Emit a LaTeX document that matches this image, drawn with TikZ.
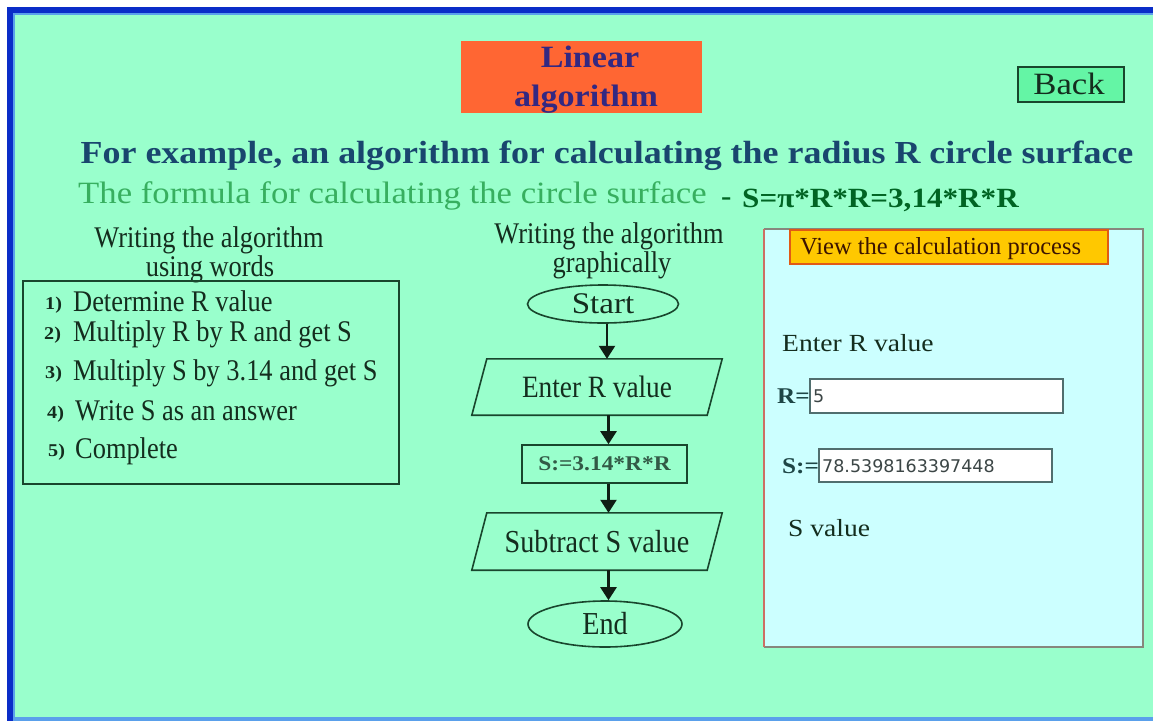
\documentclass[tikz,border=0pt]{standalone}
\usepackage{fontspec}
\setmainfont{Liberation Serif}
\newfontfamily\fcond{Liberation Serif}[FakeStretch=0.88]
\newfontfamily\fwide{Liberation Serif}[FakeStretch=1.12]
\newfontfamily\fmid{Liberation Serif}[FakeStretch=1.1]
\newfontfamily\fsans{DejaVu Sans}
\usetikzlibrary{shapes.geometric,arrows.meta}
\definecolor{bg}{RGB}{153,255,204}
\definecolor{frameblue}{RGB}{10,45,200}
\definecolor{framelight}{RGB}{90,160,235}
\definecolor{ink}{RGB}{20,45,30}
\definecolor{boxline}{RGB}{25,70,45}
\definecolor{titlec}{RGB}{51,40,130}
\definecolor{titlefill}{RGB}{255,102,51}
\definecolor{headc}{RGB}{25,70,110}
\definecolor{fgreen}{RGB}{55,175,95}
\definecolor{fdark}{RGB}{0,100,35}
\definecolor{backfill}{RGB}{100,245,165}
\definecolor{panelfill}{RGB}{204,255,255}
\definecolor{panelgray}{RGB}{135,135,125}
\definecolor{panelred}{RGB}{205,110,100}
\definecolor{btnfill}{RGB}{255,200,0}
\definecolor{btnline}{RGB}{225,90,20}
\definecolor{btntext}{RGB}{60,20,0}
\definecolor{labtext}{RGB}{30,70,70}
\definecolor{inbox}{RGB}{80,110,110}
\definecolor{digitc}{RGB}{60,70,70}
\definecolor{calcc}{RGB}{50,90,70}
\definecolor{arrowc}{RGB}{15,30,20}
\newcommand\setfs[1]{\fontsize{#1}{#1}\selectfont}
\begin{document}
\begin{tikzpicture}[x=1pt,y=-1pt,
  txt/.style={inner sep=0pt, anchor=base, text=ink},
  txtw/.style={txt, anchor=base west},
  box/.style={draw=boxline, line width=1.6pt},
  term/.style={box, shape=ellipse, inner sep=0pt, text=ink, font=\fmid\setfs{30}},
  paratext/.style={inner sep=0pt, text=ink, font=\fcond\setfs{31}},
  arr/.style={draw=arrowc, line width=2.4pt, -{Triangle[width=16pt,length=13pt]}},
  listtxt/.style={txtw, font=\fcond\setfs{30}},
  listnum/.style={txtw, font=\fwide\bfseries\setfs{18}},
  inputbox/.style={draw=inbox, line width=1.6pt, fill=white, inner sep=0pt}
]
\useasboundingbox (0,0) rectangle (1153,721);
% background and frame
\fill[white] (0,0) rectangle (1153,721);
\fill[bg] (14,14) rectangle (1153,717);
\fill[frameblue] (7,7) rectangle (1153,13);
\fill[framelight] (13,13) rectangle (1153,15);
\fill[frameblue] (7,7) rectangle (13,721);
\fill[framelight] (13,13) rectangle (15,717);
\fill[framelight] (13,717) rectangle (1153,721);

% title
\node[fill=titlefill, minimum width=241pt, minimum height=72pt, inner sep=0pt] (titlebox) at (581,77) {};
\node[txt, text=titlec, font=\fmid\bfseries\setfs{31}] (title1) at (590,67) {Linear};
\node[txt, text=titlec, font=\fmid\bfseries\setfs{31}] (title2) at (586,106) {algorithm};

% back button
\node[draw=boxline, line width=1.2pt, fill=backfill, minimum width=106pt, minimum height=35pt, inner sep=0pt] (backbox) at (1071,84.5) {};
\node[txt, font=\fwide\setfs{31}] (backtxt) at (1069,94) {Back};

% headings
\node[txt, text=headc, font=\fwide\bfseries\setfs{32.1}] (head) at (607,163) {For example, an algorithm for calculating the radius R circle surface};
\node[txtw, text=fgreen, font=\fwide\setfs{31}] (formula) at (78,203) {The formula for calculating the circle surface};
\node[txtw, text=fdark, font=\fwide\bfseries\setfs{27.8}] (dash) at (721,205) {-};
\node[txtw, text=fdark, font=\fwide\bfseries\setfs{27.8}] (formula2) at (742,207) {S=π*R*R=3,14*R*R};

% left column
\node[txt, font=\fcond\setfs{30}] (wl1) at (209,247) {Writing the algorithm};
\node[txt, font=\fcond\setfs{30}] (wl2) at (210,276) {using words};
\draw[box] (23,281) rectangle (399,484);
\node[listnum] (n1) at (45,309) {1)};
\node[listtxt] (l1) at (73,311) {Determine R value};
\node[listnum] (n2) at (44,339) {2)};
\node[listtxt] (l2) at (73,341) {Multiply R by R and get S};
\node[listnum] (n3) at (45,378) {3)};
\node[listtxt] (l3) at (73,380) {Multiply S by 3.14 and get S};
\node[listnum] (n4) at (47,418) {4)};
\node[listtxt] (l4) at (75,420) {Write S as an answer};
\node[listnum] (n5) at (48,456) {5)};
\node[listtxt] (l5) at (75,458) {Complete};

% middle column
\node[txt, font=\fcond\setfs{30}] (wm1) at (609,243) {Writing the algorithm};
\node[txt, font=\fcond\setfs{30}] (wm2) at (612,272) {graphically};
\node[term, minimum width=151pt, minimum height=38pt] (start) at (603,304) {Start};
\node[paratext, minimum width=235pt, minimum height=56pt] (in1) at (597,387) {Enter R value};
\draw[box] ([xshift=-7.5pt]in1.south west) -- ([xshift=7.5pt]in1.north west) -- ([xshift=7.5pt]in1.north east) -- ([xshift=-7.5pt]in1.south east) -- cycle;
\node[box, minimum width=165pt, minimum height=38pt, inner sep=0pt, text=calcc, font=\fwide\bfseries\setfs{20.9}] (calc) at (604.5,464) {S:=3.14*R*R};
\node[paratext, minimum width=235pt, minimum height=57pt, font=\fcond\setfs{32}] (out1) at (597,541.5) {Subtract S value};
\draw[box] ([xshift=-7.5pt]out1.south west) -- ([xshift=7.5pt]out1.north west) -- ([xshift=7.5pt]out1.north east) -- ([xshift=-7.5pt]out1.south east) -- cycle;
\node[term, minimum width=154pt, minimum height=46pt, font=\fcond\setfs{32}] (stop) at (605,624) {End};
\draw[arr] ([xshift=4pt]start.south) -- ([xshift=4pt]start.south |- in1.north);
\draw[arr] ([xshift=4pt]calc.north |- in1.south) -- ([xshift=4pt]calc.north);
\draw[arr] ([xshift=4pt]calc.south) -- ([xshift=4pt]calc.south |- out1.north);
\draw[arr] ([xshift=4pt]calc.north |- out1.south) -- ([xshift=4pt]calc.north |- stop.north);

% right panel
\node[fill=panelfill, minimum width=379pt, minimum height=418pt, inner sep=0pt] (panel) at (953.5,438) {};
\draw[panelgray, line width=1.6pt] (panel.north west) -- (panel.north east) -- (panel.south east) -- (panel.south west);
\draw[panelred, line width=1.6pt] (panel.south west) -- (panel.north west);
\node[fill=btnfill, draw=btnline, line width=1.4pt, minimum width=318pt, minimum height=34pt, inner sep=0pt] (btn) at (949,247) {};
\node[txtw, text=btntext, font=\setfs{24.5}] (btntxt) at (800,254) {View the calculation process};
\node[txtw, font=\fwide\setfs{24.6}] (enterR) at (782,351) {Enter R value};
\node[txtw, text=labtext, font=\fwide\bfseries\setfs{22.5}] (rlab) at (777,403) {R=};
\node[inputbox, minimum width=253pt, minimum height=34pt] (rbox) at (936.5,396) {};
\node[txtw, text=digitc, font=\fsans\setfs{17.5}] (rval) at (813,402) {5};
\node[txtw, text=labtext, font=\fwide\bfseries\setfs{22.5}] (slab) at (782,473) {S:=};
\node[inputbox, minimum width=233pt, minimum height=33pt] (sbox) at (935.5,465.5) {};
\node[txtw, text=digitc, font=\fsans\setfs{17.5}] (sval) at (822,472) {78.5398163397448};
\node[txtw, font=\fwide\setfs{24.6}] (sv) at (788,536) {S value};
\end{tikzpicture}
\end{document}
